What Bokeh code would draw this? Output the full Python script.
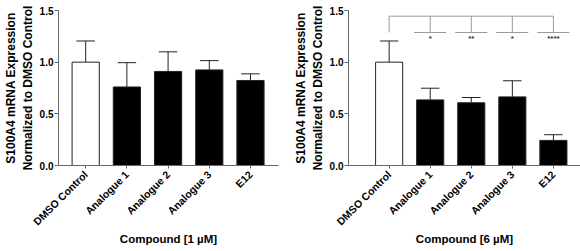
import math
from bokeh.plotting import figure
from bokeh.layouts import row
from bokeh.models import FixedTicker, NumeralTickFormatter, Range1d, ColumnDataSource
from bokeh.core.properties import value
from bokeh.embed import file_html
from bokeh.resources import INLINE

categories = ["DMSO Control", "Analogue 1", "Analogue 2", "Analogue 3", "E12"]
mean_1uM = [1.0, 0.76, 0.91, 0.925, 0.823]
err_1uM = [0.205, 0.235, 0.19, 0.09, 0.064]
mean_6uM = [1.0, 0.635, 0.607, 0.664, 0.243]
err_6uM = [0.205, 0.113, 0.051, 0.156, 0.055]
sig_labels = ["*", "**", "*", "****"]
y_ticks = [0.0, 0.5, 1.0, 1.5]
bar_colors = ["white", "black", "black", "black", "black"]

FONT = "Liberation Sans"
AXIS_COLOR = "#666666"


def make_panel(means, errs, xlabel, x_start, x_end, width, border_left, border_right):
    p = figure(width=width, height=251, output_backend="svg", toolbar_location=None,
               x_range=Range1d(x_start, x_end), y_range=Range1d(0, 1.5),
               min_border_left=border_left, min_border_right=border_right,
               min_border_top=10, min_border_bottom=86)
    p.outline_line_color = None
    p.grid.visible = False
    p.background_fill_color = "white"
    p.border_fill_color = "white"

    xs = list(range(len(categories)))
    src = ColumnDataSource(dict(x=xs, top=means, color=bar_colors,
                                up=[m + e for m, e in zip(means, errs)]))
    # error bars (upper only)
    p.segment(x0="x", y0="top", x1="x", y1="up", source=src, line_color="#222222", line_width=1)
    p.segment(x0=[x - 0.225 for x in xs], y0=src.data["up"], x1=[x + 0.225 for x in xs],
              y1=src.data["up"], line_color="#222222", line_width=1)
    p.vbar(x="x", top="top", bottom=0, width=0.66, source=src, fill_color="color",
           line_color="#222222", line_width=1)

    # y axis
    p.yaxis.ticker = FixedTicker(ticks=y_ticks)
    p.yaxis.formatter = NumeralTickFormatter(format="0.0")
    p.yaxis.axis_label = "S100A4 mRNA Expression\nNormalized to DMSO Control"
    p.yaxis.axis_label_text_font = FONT
    p.yaxis.axis_label_text_font_style = "bold"
    p.yaxis.axis_label_text_font_size = "12px"
    p.yaxis.axis_label_text_color = "black"
    p.yaxis.axis_label_standoff = 2
    p.yaxis.major_label_text_font = FONT
    p.yaxis.major_label_text_font_style = "bold"
    p.yaxis.major_label_text_font_size = "10px"
    p.yaxis.major_label_text_color = "black"
    p.yaxis.major_label_standoff = 1
    p.yaxis.major_tick_out = 4
    p.yaxis.major_tick_in = 0
    p.yaxis.minor_tick_line_color = None
    p.yaxis.axis_line_color = AXIS_COLOR
    p.yaxis.major_tick_line_color = AXIS_COLOR

    # x axis
    p.xaxis.ticker = FixedTicker(ticks=xs)
    p.xaxis.major_label_overrides = {i: c for i, c in enumerate(categories)}
    p.xaxis.major_label_orientation = math.pi / 4
    p.xaxis.major_label_text_font = FONT
    p.xaxis.major_label_text_font_style = "bold"
    p.xaxis.major_label_text_font_size = "10.5px"
    p.xaxis.major_label_text_color = "black"
    p.xaxis.major_label_standoff = 4
    p.xaxis.major_tick_out = 3
    p.xaxis.major_tick_in = 0
    p.xaxis.minor_tick_line_color = None
    p.xaxis.axis_line_color = AXIS_COLOR
    p.xaxis.major_tick_line_color = AXIS_COLOR
    p.xaxis.axis_label = xlabel
    p.xaxis.axis_label_text_font = FONT
    p.xaxis.axis_label_text_font_style = "bold"
    p.xaxis.axis_label_text_font_size = "11.5px"
    p.xaxis.axis_label_text_color = "black"
    p.xaxis.axis_label_standoff = -2
    return p


p1 = make_panel(mean_1uM, err_1uM, "Compound [1 µM]", -0.66, 4.68, 290, 51, 12)
p2 = make_panel(mean_6uM, err_6uM, "Compound [6 µM]", -0.99, 4.66, 290, 50, 0)

# significance brackets on the 6 µM panel
BR = "#9a9a9a"
top_y = 1.445
low_y = 1.287
p2.segment(x0=[0], y0=[top_y], x1=[4], y1=[top_y], line_color=BR, line_width=1)
p2.segment(x0=[0, 1, 2, 3, 4], y0=[top_y] * 5, x1=[0, 1, 2, 3, 4], y1=[low_y] * 5,
           line_color=BR, line_width=1)
p2.segment(x0=[x - 0.39 for x in [1, 2, 3, 4]], y0=[low_y] * 4,
           x1=[x + 0.39 for x in [1, 2, 3, 4]], y1=[low_y] * 4, line_color=BR, line_width=1)
p2.text(x=[1, 2, 3, 4], y=[1.232] * 4, text=sig_labels, text_align="center",
        text_baseline="middle", text_font=value(FONT), text_font_style="bold",
        text_font_size="8px", text_color="#333333")

layout = row(p1, p2)
open("out.html", "w").write(file_html(layout, INLINE))
